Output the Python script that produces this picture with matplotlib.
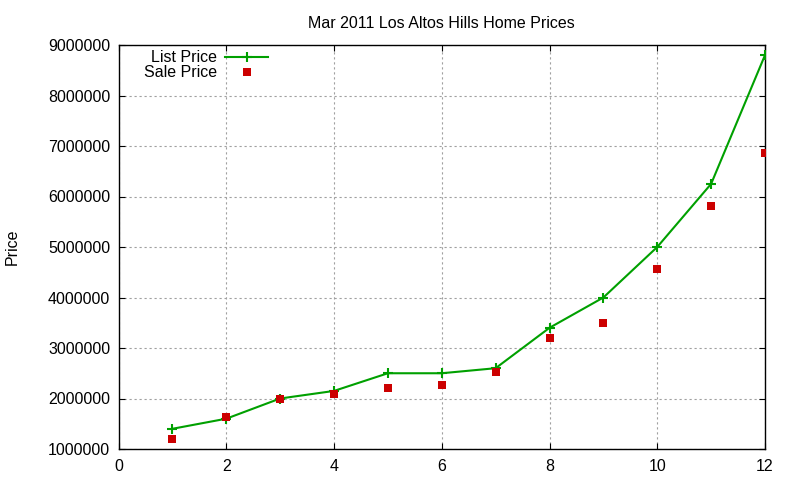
import matplotlib
matplotlib.use("Agg")
import matplotlib.pyplot as plt

x_vals = [1, 2, 3, 4, 5, 6, 7, 8, 9, 10, 11, 12]
list_price = [1400000, 1600000, 2000000, 2150000, 2500000, 2500000, 2600000,
              3400000, 4000000, 5000000, 6250000, 8800000]
sale_price = [1200000, 1640000, 1990000, 2090000, 2210000, 2270000, 2520000,
              3190000, 3500000, 4560000, 5810000, 6870000]
x_ticks = [0, 2, 4, 6, 8, 10, 12]
y_ticks = [1000000, 2000000, 3000000, 4000000, 5000000, 6000000, 7000000,
           8000000, 9000000]
title = "Mar 2011 Los Altos Hills Home Prices"

plt.rcParams['font.family'] = ['Liberation Sans', 'DejaVu Sans']
FS = 11.5

fig = plt.figure(figsize=(8, 4.8), dpi=100)
ax = fig.add_axes([118.5 / 800, 1 - 449 / 480, (765 - 118.5) / 800, (449 - 45) / 480])

ax.plot(x_vals, list_price, color='#00a000', lw=1.5, marker='+', ms=7,
        mew=1.5, label='List Price', zorder=3)
ax.plot(x_vals, sale_price, ls='none', color='#cc0000', marker='s', ms=6.3,
        mew=0, label='Sale Price', zorder=4)

ax.set_xlim(0, 12)
ax.set_ylim(1000000, 9000000)
ax.set_xticks(x_ticks)
ax.set_xticklabels([str(v) for v in x_ticks], fontsize=FS)
ax.set_yticks(y_ticks)
ax.set_yticklabels([str(v) for v in y_ticks], fontsize=FS)
ax.tick_params(direction='in', length=4.5, width=0.8, top=True, right=True,
               pad=6, colors='black')
ax.tick_params(axis='x', pad=7)
for s in ax.spines.values():
    s.set_linewidth(1.0)
ax.grid(True, color='#a0a0a0', linestyle=(0, (2, 2.5)), linewidth=0.8)
ax.set_axisbelow(True)

ax.set_title(title, fontsize=FS, pad=12.5)
ax.set_ylabel('Price', fontsize=FS, labelpad=20.5)

leg = ax.legend(loc='upper left', frameon=False, markerfirst=False,
                fontsize=FS, handlelength=2.7, handletextpad=0.5,
                labelspacing=0.02, borderaxespad=0.0,
                bbox_to_anchor=(0.0295, 1.003))

fig.savefig('out.png', dpi=100)
